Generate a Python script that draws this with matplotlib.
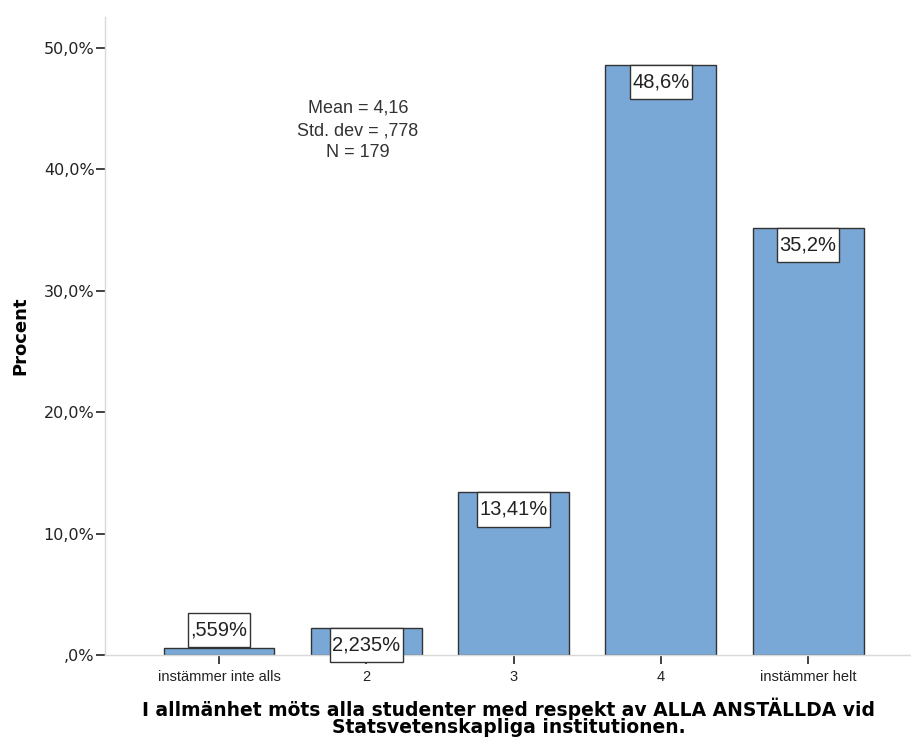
import matplotlib
matplotlib.use('Agg')
import matplotlib.pyplot as plt
import numpy as np

plt.rcParams['font.family'] = ['Liberation Sans', 'DejaVu Sans']

categories = ['instämmer inte alls', '2', '3', '4', 'instämmer helt']
percent = [0.559, 2.235, 13.41, 48.6, 35.2]
bar_labels = [',559%', '2,235%', '13,41%', '48,6%', '35,2%']
y_ticks = [0, 10, 20, 30, 40, 50]
y_tick_labels = [',0%', '10,0%', '20,0%', '30,0%', '40,0%', '50,0%']
stats_text = 'Mean = 4,16\nStd. dev = ,778\nN = 179'
x_title = 'I allmänhet möts alla studenter med respekt av ALLA ANSTÄLLDA vid\nStatsvetenskapliga institutionen.'

fig = plt.figure(figsize=(9.12, 7.42), dpi=100)
ax = fig.add_axes([0.1151, 0.1173, 0.8849, 0.8598])

x = np.arange(len(categories))
ax.bar(x, percent, width=0.753, color='#79a8d6', edgecolor='#333333', linewidth=1.0, zorder=2)

# value boxes: taller than wide padding, like the SPSS output
label_size = 14.5
pad = 0.12
aspect = 3.2
vpad = pad * label_size * aspect
for xi, v, lab in zip(x, percent, bar_labels):
    if v < 1:
        va, off = 'bottom', vpad + 0.5
    else:
        va, off = 'top', -vpad
    ax.annotate(lab, (xi, v), xytext=(0, off), textcoords='offset points',
                ha='center', va=va, fontsize=label_size, color='#222222', zorder=3,
                bbox=dict(boxstyle='square,pad=%s' % pad, facecolor='white',
                          edgecolor='#333333', linewidth=1.0, mutation_aspect=aspect))

ax.set_xlim(-0.774, 4.705)
ax.set_ylim(0, 52.55)
ax.set_xticks(x)
ax.set_xticklabels(categories, fontsize=10.5, color='#222222')
ax.set_yticks(y_ticks)
ax.set_yticklabels(y_tick_labels, fontsize=11.5, color='#222222', family='DejaVu Sans')
ax.tick_params(axis='both', length=6.5, width=1.3, color='#333333')
ax.tick_params(axis='y', pad=1)
ax.tick_params(axis='x', pad=4)

for s in ['top', 'right']:
    ax.spines[s].set_visible(False)
for s in ['left', 'bottom']:
    ax.spines[s].set_color('#d9d9d9')
    ax.spines[s].set_linewidth(1.0)

ax.set_ylabel('Procent', fontsize=13, fontweight='bold', family='DejaVu Sans', labelpad=10)
ax.set_xlabel(x_title, fontsize=13.5, fontweight='bold', family='DejaVu Sans', labelpad=10, linespacing=0.88)

ax.text(0.944, 43.2, stats_text, ha='center', va='center', fontsize=13, color='#333333', linespacing=1.4)

fig.savefig('out.png', dpi=100)
